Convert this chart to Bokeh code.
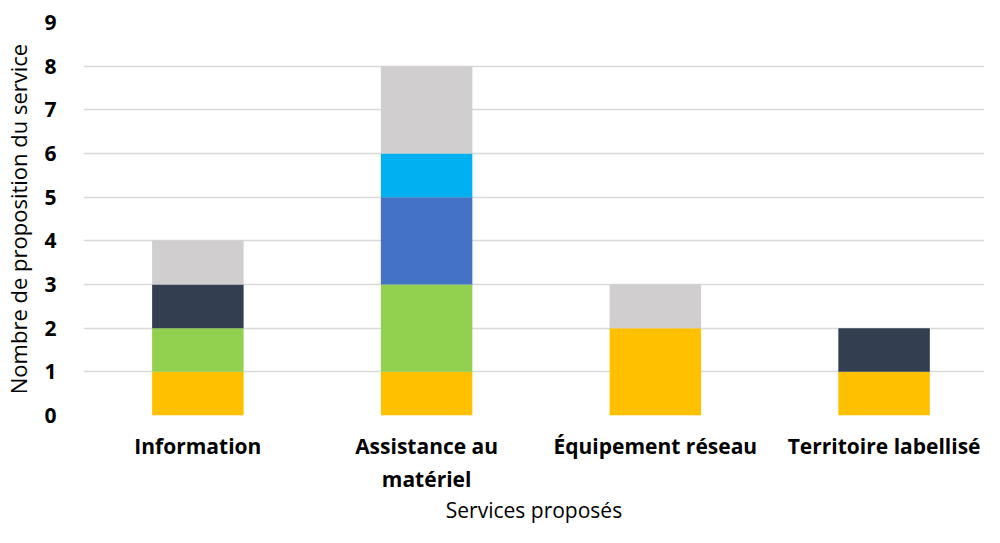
from bokeh.plotting import figure
from bokeh.models import ColumnDataSource, Range1d, FixedTicker
from bokeh.embed import file_html
from bokeh.resources import INLINE

categories = ["Information", "Assistance au\nmatériel", "Équipement réseau", "Territoire labellisé"]
series_names = ["s1", "s2", "s3", "s4", "s5", "s6"]
s1 = [1, 1, 2, 1]   # jaune
s2 = [1, 2, 0, 0]   # vert
s3 = [1, 0, 0, 1]   # bleu nuit
s4 = [0, 2, 0, 0]   # bleu
s5 = [0, 1, 0, 0]   # bleu clair
s6 = [1, 2, 1, 0]   # gris
colors = ["#FFC000", "#92D050", "#333F50", "#4472C4", "#00B0F0", "#D0CECE"]
y_ticks = [0, 1, 2, 3, 4, 5, 6, 7, 8, 9]

xpos = [i + 0.5 for i in range(len(categories))]
source = ColumnDataSource(dict(x=xpos, s1=s1, s2=s2, s3=s3, s4=s4, s5=s5, s6=s6))

FONT = "Open Sans"

p = figure(width=984, height=527, output_backend="svg", toolbar_location=None,
           x_range=Range1d(0, 3.939), y_range=Range1d(0, 9),
           min_border_left=82, min_border_right=0, min_border_top=22, min_border_bottom=111)
p.outline_line_color = None

p.vbar_stack(series_names, x="x", width=0.4, color=colors, source=source, line_color=None)

p.xgrid.grid_line_color = None
p.ygrid.grid_line_color = "#D9D9D9"
p.ygrid.grid_line_width = 1.5
p.ygrid.ticker = FixedTicker(ticks=y_ticks)

p.yaxis.ticker = FixedTicker(ticks=y_ticks)
p.yaxis.axis_line_color = None
p.yaxis.major_tick_line_color = None
p.yaxis.minor_tick_line_color = None
p.yaxis.major_tick_out = 0
p.yaxis.major_tick_in = 0
p.yaxis.major_label_text_font = FONT
p.yaxis.major_label_text_font_style = "bold"
p.yaxis.major_label_text_font_size = "21px"
p.yaxis.major_label_text_color = "#000000"
p.yaxis.major_label_standoff = 27
p.yaxis.axis_label = "Nombre de proposition du service"
p.yaxis.axis_label_text_font = FONT
p.yaxis.axis_label_text_font_style = "normal"
p.yaxis.axis_label_text_font_size = "22px"
p.yaxis.axis_label_text_color = "#000000"
p.yaxis.axis_label_standoff = 8

p.xaxis.ticker = FixedTicker(ticks=xpos)
p.xaxis.major_label_overrides = {x: c for x, c in zip(xpos, categories)}
p.xaxis.axis_line_color = None
p.xaxis.major_tick_line_color = None
p.xaxis.minor_tick_line_color = None
p.xaxis.major_tick_out = 0
p.xaxis.major_tick_in = 0
p.xaxis.major_label_text_font = FONT
p.xaxis.major_label_text_font_style = "bold"
p.xaxis.major_label_text_font_size = "21px"
p.xaxis.major_label_text_color = "#000000"
p.xaxis.major_label_standoff = 16
p.xaxis.axis_label = "Services proposés"
p.xaxis.axis_label_text_font = FONT
p.xaxis.axis_label_text_font_style = "normal"
p.xaxis.axis_label_text_font_size = "21px"
p.xaxis.axis_label_text_color = "#000000"
p.xaxis.axis_label_standoff = 0

open("out.html", "w").write(file_html(p, INLINE))
